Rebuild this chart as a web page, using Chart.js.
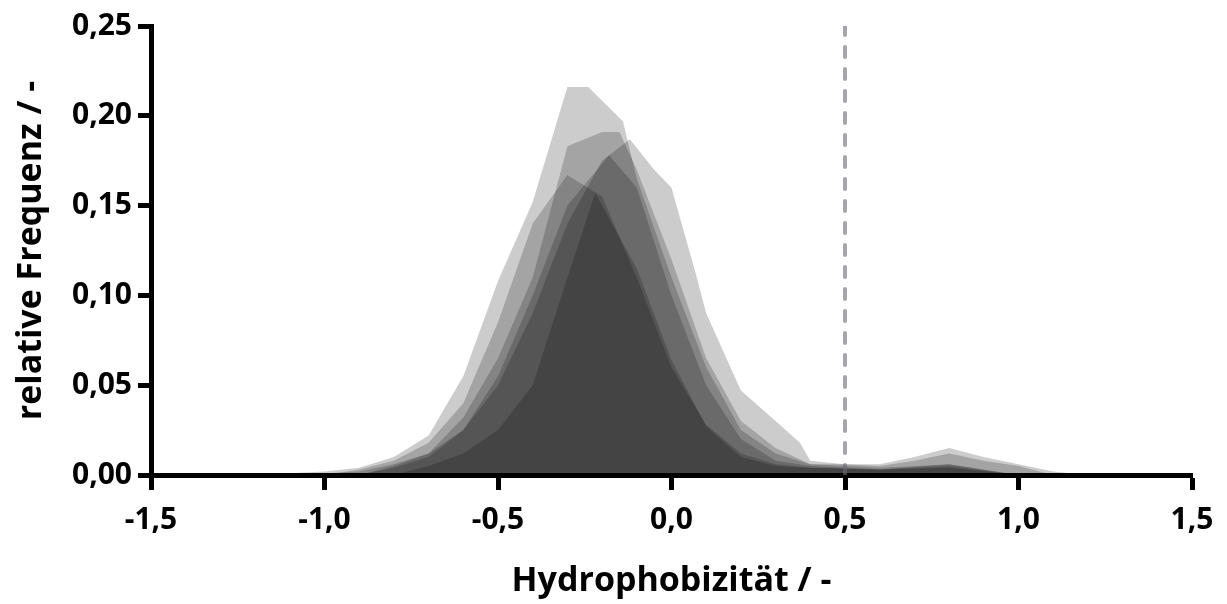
<!DOCTYPE html>
<html>
<head>
<meta charset="utf-8">
<script src="https://cdn.jsdelivr.net/npm/chart.js@4"></script>
<style>
  body { margin: 0; background: #fff; }
</style>
</head>
<body>
<canvas id="hydroChart" width="1227" height="604"></canvas>
<script>
// tick labels (German decimal comma)
var xTickLabels = ['-1,5', '-1,0', '-0,5', '0,0', '0,5', '1,0', '1,5'];
var yTickLabels = ['0,00', '0,05', '0,10', '0,15', '0,20', '0,25'];

// dashed marker at hydrophobicity 0.5
var markerX = 0.5;

// six overlapping frequency distributions
var s1x = [-1.2, -1.0, -0.9, -0.8, -0.7, -0.6, -0.5, -0.4, -0.3, -0.24, -0.14, -0.1, 0.0, 0.1, 0.2, 0.3, 0.4, 0.5, 0.6, 0.7, 0.8, 0.9, 1.0, 1.1, 1.2];
var s1y = [0, 0.002, 0.004, 0.01, 0.022, 0.055, 0.108, 0.152, 0.216, 0.216, 0.197, 0.165, 0.11, 0.06, 0.025, 0.012, 0.006, 0.006, 0.006, 0.01, 0.015, 0.01, 0.006, 0.002, 0];

var s2x = [-1.1, -0.9, -0.8, -0.7, -0.6, -0.5, -0.4, -0.3, -0.2, -0.12, -0.05, 0.0, 0.07, 0.1, 0.2, 0.3, 0.37, 0.4, 0.5, 0.6, 0.7, 0.8, 0.9, 1.0, 1.1];
var s2y = [0, 0.002, 0.006, 0.012, 0.025, 0.05, 0.09, 0.14, 0.175, 0.187, 0.17, 0.16, 0.112, 0.09, 0.047, 0.03, 0.018, 0.008, 0.006, 0.005, 0.008, 0.012, 0.008, 0.005, 0];

var s3x = [-1.0, -0.9, -0.8, -0.7, -0.6, -0.5, -0.4, -0.3, -0.2, -0.1, 0.0, 0.1, 0.2, 0.3, 0.4, 0.6, 0.8, 1.0];
var s3y = [0, 0.003, 0.008, 0.018, 0.04, 0.085, 0.14, 0.167, 0.155, 0.11, 0.06, 0.028, 0.012, 0.006, 0.004, 0.003, 0.006, 0];

var s4x = [-0.9, -0.8, -0.7, -0.6, -0.5, -0.4, -0.3, -0.2, -0.15, -0.1, 0.0, 0.1, 0.2, 0.3, 0.4, 0.6, 0.8, 1.0];
var s4y = [0, 0.005, 0.012, 0.032, 0.065, 0.11, 0.183, 0.191, 0.191, 0.17, 0.12, 0.065, 0.03, 0.015, 0.006, 0.004, 0.006, 0];

var s5x = [-0.9, -0.8, -0.7, -0.6, -0.5, -0.4, -0.3, -0.18, -0.1, 0.0, 0.1, 0.2, 0.3, 0.4, 0.6, 0.8, 1.0];
var s5y = [0, 0.004, 0.01, 0.025, 0.055, 0.1, 0.15, 0.178, 0.16, 0.1, 0.05, 0.02, 0.008, 0.005, 0.003, 0.005, 0];

var s6x = [-0.8, -0.7, -0.6, -0.5, -0.4, -0.3, -0.22, -0.1, 0.0, 0.1, 0.2, 0.3, 0.4, 0.6, 0.8, 1.0];
var s6y = [0, 0.005, 0.012, 0.025, 0.05, 0.11, 0.157, 0.115, 0.064, 0.027, 0.01, 0.005, 0.004, 0.003, 0.004, 0];

function toPoints(xs, ys) {
    return xs.map(function (x, i) { return { x: x, y: ys[i] }; });
}

function areaSet(xs, ys) {
    return {
        data: toPoints(xs, ys),
        backgroundColor: 'rgba(0, 0, 0, 0.2)',
        borderWidth: 0,
        pointRadius: 0,
        fill: 'origin',
        tension: 0,
        order: 2
    };
}

var ctx = document.getElementById('hydroChart').getContext('2d');
var hydroChart = new Chart(ctx, {
    type: 'line',
    data: {
        datasets: [
            areaSet(s1x, s1y),
            areaSet(s2x, s2y),
            areaSet(s3x, s3y),
            areaSet(s4x, s4y),
            areaSet(s5x, s5y),
            areaSet(s6x, s6y),
            {
                data: [{ x: markerX, y: 0 }, { x: markerX, y: 0.25 }],
                borderColor: 'rgba(105, 105, 115, 0.6)',
                borderWidth: 4,
                borderDash: [10, 12],
                borderCapStyle: 'round',
                pointRadius: 0,
                fill: false,
                order: 1
            }
        ]
    },
    options: {
        responsive: false,
        animation: false,
        layout: { padding: { top: 26, right: 35, left: 0, bottom: 0 } },
        plugins: {
            legend: { display: false },
            tooltip: { enabled: false }
        },
        scales: {
            x: {
                type: 'linear',
                min: -1.5,
                max: 1.5,
                afterFit: function (scale) { scale.height = 129; },
                ticks: {
                    stepSize: 0.5,
                    padding: 12,
                    color: '#000',
                    maxRotation: 0,
                    font: { family: 'Open Sans', weight: 'bold', size: 30 },
                    callback: function (v, i) { return xTickLabels[i]; }
                },
                grid: {
                    drawOnChartArea: false,
                    drawTicks: true,
                    tickLength: 15,
                    tickWidth: 5,
                    tickColor: '#000'
                },
                border: { display: true, width: 5, color: '#000' },
                title: {
                    display: true,
                    text: 'Hydrophobizität / -',
                    color: '#000',
                    font: { family: 'Open Sans', weight: 'bold', size: 34 },
                    padding: { top: 0, bottom: 2 }
                }
            },
            y: {
                min: 0,
                max: 0.25,
                afterFit: function (scale) { scale.width = 151; },
                ticks: {
                    stepSize: 0.05,
                    padding: 6,
                    color: '#000',
                    font: { family: 'Open Sans', weight: 'bold', size: 30 },
                    callback: function (v, i) { return yTickLabels[i]; }
                },
                grid: {
                    drawOnChartArea: false,
                    drawTicks: true,
                    tickLength: 13,
                    tickWidth: 5,
                    tickColor: '#000'
                },
                border: { display: true, width: 5, color: '#000' },
                title: {
                    display: true,
                    text: 'relative Frequenz / -',
                    color: '#000',
                    font: { family: 'Open Sans', weight: 'bold', size: 34 },
                    padding: { top: 11, bottom: 0 }
                }
            }
        }
    }
});
</script>
</body>
</html>
